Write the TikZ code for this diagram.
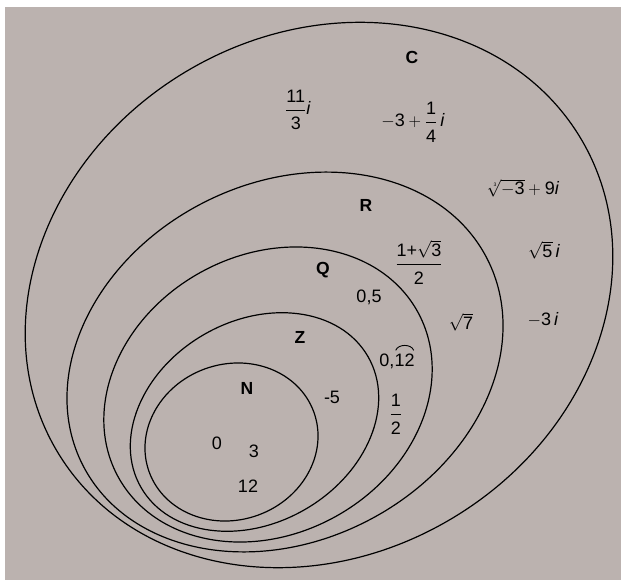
\documentclass[tikz,border=0pt]{standalone}
\usepackage{amsmath}
\usepackage{fontspec}
\setmainfont{Liberation Sans}
\definecolor{paper}{RGB}{187,178,175}
\newcommand{\imu}{\textit{i}}
\newcommand{\tx}[1]{\text{#1}}
\newcommand{\fr}[2]{\genfrac{}{}{1.1pt}{0}{#1\rule[-4pt]{0pt}{4pt}}{\rule{0pt}{16pt}#2}}
\begin{document}
\begin{tikzpicture}[x=1pt,y=-1pt,
  setline/.style={draw=black, line width=1.2pt},
  lab/.style={font=\fontsize{17.5}{20}\selectfont\bfseries, inner sep=0pt},
  num/.style={font=\fontsize{18}{21}\selectfont, inner sep=0pt},
  arcline/.style={draw=black, line width=0.9pt}]
\fill[white] (0,0) rectangle (621,580);
\fill[paper] (5,7) rectangle (621,580);
\useasboundingbox (0,0) rectangle (621,580);
% nested sets
\draw[setline, shift={(319,295)}, rotate=31] (0,0) ellipse [x radius=305, y radius=260];
\draw[setline, shift={(285,362)}, rotate=27] (0,0) ellipse [x radius=227, y radius=179];
\draw[setline, shift={(268,394.5)}, rotate=29] (0,0) ellipse [x radius=171, y radius=139.5];
\draw[setline, shift={(254.5,422)}, rotate=30] (0,0) ellipse [x radius=131, y radius=101];
\draw[setline, shift={(231.5,442)}, rotate=20] (0,0) ellipse [x radius=87.6, y radius=77.8];
% set names
\node[lab] (C) at (412,57) {C};
\node[lab] (R) at (366,205) {R};
\node[lab] (Q) at (323,270) {Q};
\node[lab] (Z) at (300,337) {Z};
\node[lab] (N) at (247,388) {N};
% elements
\node[num] (e1) at (298,110) {$\fr{\tx{11}}{\tx{3}}$\imu};
\node[num] (e2) at (413,122) {$-\tx{3}+\fr{\tx{1}}{\tx{4}}$\,\imu};
\node[num] (e3) at (524,188) {$\sqrt[\tx{\tiny 3}]{-\tx{3}}+\tx{9}$\imu};
\node[num] (e4) at (419,262) {$\fr{\tx{1+}\sqrt{\tx{3}}}{\tx{2}}$};
\node[num] (e5) at (544,250) {$\sqrt{\tx{5}}$\,\imu};
\node[num] (e6) at (369,297) {0,5};
\node[num] (e7) at (461,322) {$\sqrt{\tx{7}}$};
\node[num] (e8) at (543,320) {$-\tx{3}$\,\imu};
\node[num] (rep) at (397,361) {0,12};
\draw[arcline] ([xshift=-19pt,yshift=3pt]rep.north east) to[bend left=70] ([xshift=-1pt,yshift=3pt]rep.north east);
\node[num] (e9) at (396,414) {$\fr{\tx{1}}{\tx{2}}$};
\node[num] (e10) at (332,397) {-5};
\node[num] (e11) at (217,443) {0};
\node[num] (e12) at (254,451) {3};
\node[num] (e13) at (248,486) {12};
\end{tikzpicture}
\end{document}
